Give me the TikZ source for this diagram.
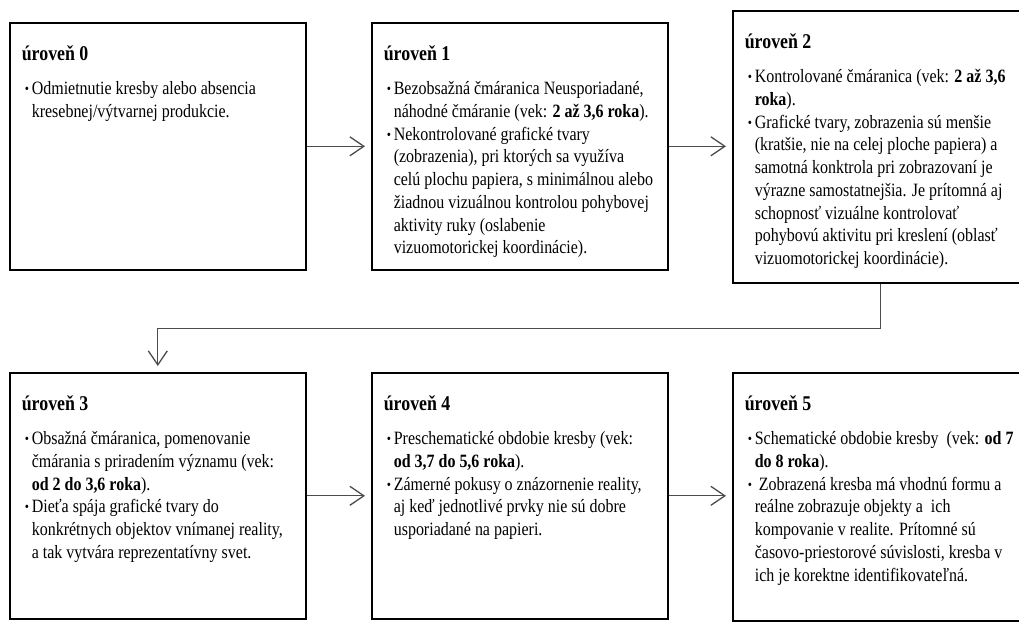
\documentclass[tikz,border=0pt]{standalone}
\usepackage{fontspec}
\setmainfont{Liberation Serif}[FakeStretch=0.85]
\usetikzlibrary{arrows.meta}

% text in the boxes
\newcommand{\lvlfont}{\fontsize{18.8}{22.7}\selectfont}
\newcommand{\ttl}[1]{\noindent{\fontsize{21}{22.7}\selectfont\bfseries\rule{0pt}{38pt}#1\par}\vspace{11.3pt}}
\newcommand{\bul}{\par\hangindent=10pt\hangafter=1\noindent\hspace*{3pt}\makebox[7pt][l]{\fontsize{14}{14}\selectfont\raisebox{1pt}{•}}}

\tikzset{
	level/.style = {draw, line width=1.6pt, anchor=north west, inner xsep=12pt, inner ysep=0pt},
	flow/.style = {draw=black!70, line width=1.3pt, shorten >=6pt,
		-{Straight Barb[length=14pt, width=19pt, line width=1.3pt]}}}

\begin{document}
\begin{tikzpicture}[x=1pt, y=-1pt]
\useasboundingbox (0,0) rectangle (1019,629);
\clip (0,0) rectangle (1019,629);

% NODES
% top row
\node (u0) [level] at (9,22) {\parbox[c][247pt][t]{272pt}{\lvlfont
	\ttl{úroveň 0}
	\bul Odmietnutie kresby alebo absencia\\ kresebnej/výtvarnej produkcie.}};
\node (u1) [level] at (371,22) {\parbox[c][247pt][t]{272pt}{\lvlfont
	\ttl{úroveň 1}
	\bul Bezobsažná čmáranica Neusporiadané,\\ náhodné čmáranie (vek: \textbf{2 až 3,6 roka}).
	\bul Nekontrolované grafické tvary\\ (zobrazenia), pri ktorých sa využíva\\ celú plochu papiera, s minimálnou alebo\\ žiadnou vizuálnou kontrolou pohybovej\\ aktivity ruky (oslabenie\\ vizuomotorickej koordinácie).}};
\node (u2) [level] at (732,10) {\parbox[c][272pt][t]{272pt}{\lvlfont
	\ttl{úroveň 2}
	\bul Kontrolované čmáranica (vek: \textbf{2 až 3,6}\\ \textbf{roka}).
	\bul Grafické tvary, zobrazenia sú menšie\\ (kratšie, nie na celej ploche papiera) a\\ samotná konktrola pri zobrazovaní je\\ výrazne samostatnejšia. Je prítomná aj\\ schopnosť vizuálne kontrolovať\\ pohybovú aktivitu pri kreslení (oblasť\\ vizuomotorickej koordinácie).}};
% bottom row
\node (u3) [level] at (9,372) {\parbox[c][246pt][t]{272pt}{\lvlfont
	\ttl{úroveň 3}
	\bul Obsažná čmáranica, pomenovanie\\ čmárania s priradením významu (vek:\\ \textbf{od 2 do 3,6 roka}).
	\bul Dieťa spája grafické tvary do\\ konkrétnych objektov vnímanej reality,\\ a tak vytvára reprezentatívny svet.}};
\node (u4) [level] at (371,372) {\parbox[c][246pt][t]{272pt}{\lvlfont
	\ttl{úroveň 4}
	\bul Preschematické obdobie kresby (vek:\\ \textbf{od 3,7 do 5,6 roka}).
	\bul Zámerné pokusy o znázornenie reality,\\ aj keď jednotlivé prvky nie sú dobre\\ usporiadané na papieri.}};
\node (u5) [level] at (732,372) {\parbox[c][248pt][t]{272pt}{\lvlfont
	\ttl{úroveň 5}
	\bul Schematické obdobie kresby\ \ (vek: \textbf{od 7}\\ \textbf{do 8 roka}).
	\bul \ Zobrazená kresba má vhodnú formu a\\ reálne zobrazuje objekty a\ \ ich\\ kompovanie v realite. Prítomné sú\\ časovo-priestorové súvislosti, kresba v\\ ich je korektne identifikovateľná.}};

% CONNECTIONS
\draw [flow] (u0.east) -- (u1.west);
\draw [flow] (u1.east) -- (u1.east -| u2.west);
\draw [flow] (u2.south) -- ++(0,45) -| (u3.north);
\draw [flow] (u3.east) -- (u4.west);
\draw [flow] (u4.east) -- (u4.east -| u5.west);

\end{tikzpicture}
\end{document}
